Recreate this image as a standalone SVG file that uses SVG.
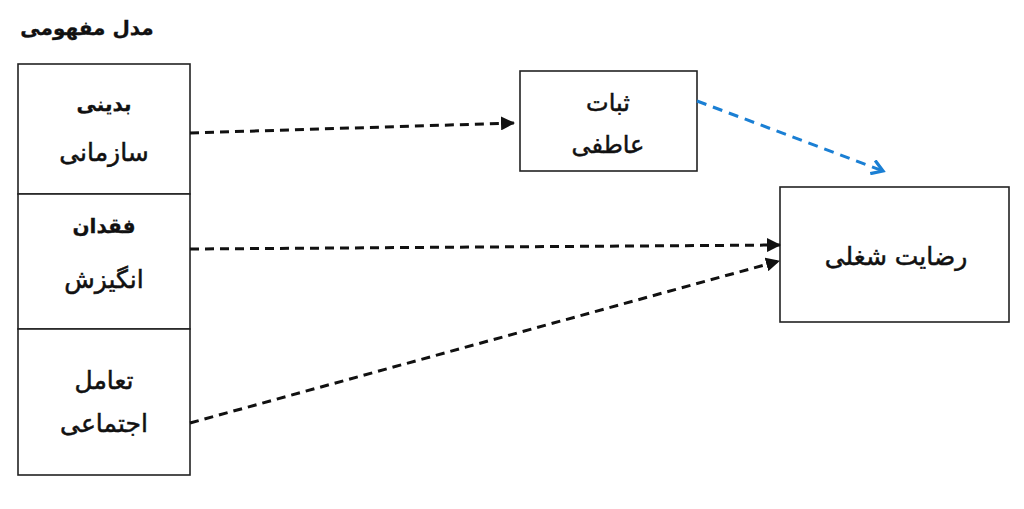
<svg xmlns="http://www.w3.org/2000/svg" width="1024" height="509" viewBox="0 0 1024 509">
<style>
.box{fill:#fff;stroke:#222;stroke-width:1.6}
.t{font-family:"DejaVu Sans","Noto Sans",sans-serif;fill:#111;text-anchor:middle;direction:rtl;stroke:#111;stroke-width:0.5}
.b{font-weight:bold;stroke-width:0.3}
.c{fill:none;stroke:#111;stroke-width:3;stroke-dasharray:9 6}
.cb{fill:none;stroke:#1a7fd4;stroke-width:3;stroke-dasharray:10 7}
</style>
<defs>
<marker id="ah" markerWidth="14" markerHeight="14" refX="13" refY="7" orient="auto" markerUnits="userSpaceOnUse" viewBox="0 0 14 14">
<path d="M0,0 L14,7 L0,14 Z" fill="#111"/>
</marker>
<marker id="ahb" markerWidth="16" markerHeight="16" refX="13" refY="8" orient="auto" markerUnits="userSpaceOnUse" viewBox="0 0 16 16">
<path d="M2,1 L13,8 L2,15" fill="none" stroke="#1a7fd4" stroke-width="3.2"/>
</marker>
</defs>
<rect width="1024" height="509" fill="#fff"/>
<text class="t b" x="87" y="35" font-size="20">مدل مفهومی</text>
<g id="n1">
<rect class="box" x="18" y="64" width="172" height="130"/>
<text class="t b" x="104" y="111" font-size="20">بدینی</text>
<text class="t" x="104" y="161" font-size="25">سازمانی</text>
</g>
<g id="n2">
<rect class="box" x="18" y="194" width="172" height="135"/>
<text class="t b" x="104" y="233" font-size="20">فقدان</text>
<text class="t" x="104" y="288" font-size="25">انگیزش</text>
</g>
<g id="n3">
<rect class="box" x="18" y="329" width="172" height="146"/>
<text class="t" x="104" y="389" font-size="25">تعامل</text>
<text class="t" x="104" y="432" font-size="25">اجتماعی</text>
</g>
<g id="n4">
<rect class="box" x="520" y="71" width="177" height="100"/>
<text class="t" x="608" y="111" font-size="24">ثبات</text>
<text class="t" x="608" y="153" font-size="24">عاطفی</text>
</g>
<g id="n5">
<rect class="box" x="780" y="187" width="229" height="135"/>
<text class="t" x="896" y="265" font-size="25">رضایت شغلی</text>
</g>
<g id="connectors">
<line class="c" x1="190" y1="133" x2="514" y2="123" marker-end="url(#ah)"/>
<line class="c" x1="190" y1="249" x2="780" y2="245" marker-end="url(#ah)"/>
<line class="c" x1="190" y1="423" x2="779" y2="261" marker-end="url(#ah)"/>
<line class="cb" x1="697" y1="101" x2="883" y2="171" marker-end="url(#ahb)"/>
</g>
</svg>
